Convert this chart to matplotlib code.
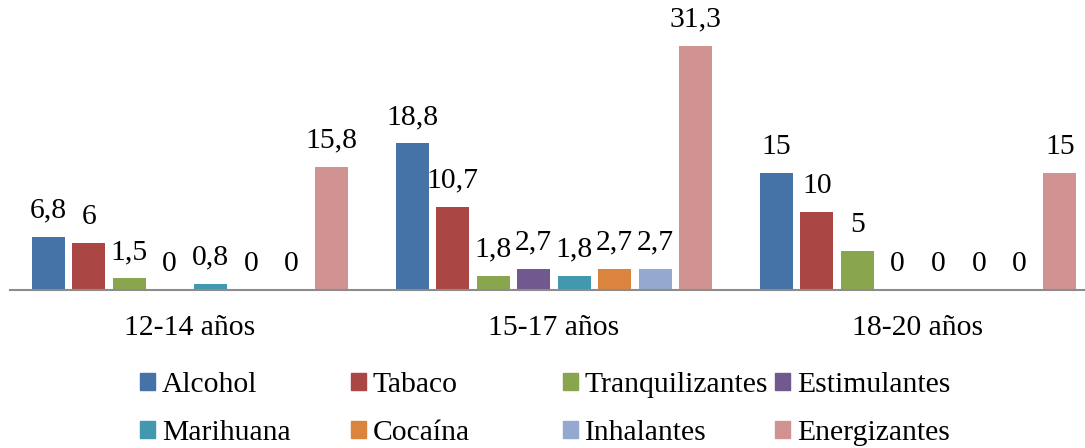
import matplotlib.pyplot as plt
import matplotlib.patches as mpatches
import numpy as np

plt.rcParams["font.family"] = ["Liberation Serif", "DejaVu Serif"]

# Data
groups = ["12-14 años", "15-17 años", "18-20 años"]
series = ["Alcohol", "Tabaco", "Tranquilizantes", "Estimulantes",
          "Marihuana", "Cocaína", "Inhalantes", "Energizantes"]
alcohol = [6.8, 18.8, 15]
tabaco = [6, 10.7, 10]
tranquilizantes = [1.5, 1.8, 5]
estimulantes = [0, 2.7, 0]
marihuana = [0.8, 1.8, 0]
cocaina = [0, 2.7, 0]
inhalantes = [0, 2.7, 0]
energizantes = [15.8, 31.3, 15]
values = [alcohol, tabaco, tranquilizantes, estimulantes,
          marihuana, cocaina, inhalantes, energizantes]

colors = ["#4572A7", "#AA4643", "#89A54E", "#71588F",
          "#4198AF", "#DB843D", "#93A9CF", "#D19392"]

FS = 21.3
W, H = 1085, 448
fig = plt.figure(figsize=(W / 100, H / 100), dpi=100)
ax = fig.add_axes([10 / W, (H - 290) / H, 1075 / W, 290 / H])

x = np.arange(len(groups))
stride = 0.1113
width = 0.0907

for i, (name, vals, c) in enumerate(zip(series, values, colors)):
    pos = x + (i - 3.5) * stride
    bars = ax.bar(pos, vals, width, color=c, label=name)
    for b, v in zip(bars, vals):
        ax.annotate(f"{v:g}".replace(".", ","),
                    (b.get_x() + b.get_width() / 2, v),
                    xytext=(0, 9.5), textcoords="offset points",
                    ha="center", va="bottom", fontsize=FS)

ax.set_xlim(-0.4945, 2.4588)
ax.set_ylim(0, 37.2)
ax.set_xticks(x)
ax.set_xticklabels(groups, fontsize=FS)
ax.tick_params(axis="x", length=0, pad=18)
ax.set_yticks([])
for s in ["top", "right", "left"]:
    ax.spines[s].set_visible(False)
ax.spines["bottom"].set_color("#8c8c8c")
ax.spines["bottom"].set_linewidth(1.5)

# Legend: one small legend per column so that columns are evenly spaced
col_x = [140, 351, 563, 775]
for j in range(4):
    handles = [mpatches.Patch(color=colors[j]), mpatches.Patch(color=colors[j + 4])]
    labels = [series[j], series[j + 4]]
    fig.legend(handles, labels, loc="center left",
               bbox_to_anchor=(col_x[j] / W, (H - 409) / H),
               frameon=False, fontsize=FS, borderpad=0, borderaxespad=0,
               handlelength=0.5, handleheight=0.5, handletextpad=0.24,
               labelspacing=0.77)

fig.savefig("out.png", dpi=100)
